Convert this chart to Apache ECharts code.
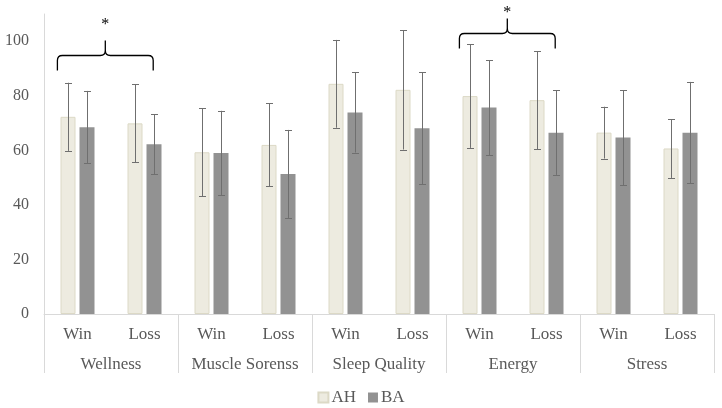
<!DOCTYPE html>
<html>
<head>
<meta charset="utf-8">
<script src="https://cdn.jsdelivr.net/npm/echarts@6/dist/echarts.min.js"></script>
<style>html,body{margin:0;padding:0;background:#fff;}#c{width:722px;height:408px;}</style>
</head>
<body>
<div id="c"></div>
<script>
const categories = ['Win','Loss','Win','Loss','Win','Loss','Win','Loss','Win','Loss'];
const groups = ['Wellness','Muscle Sorenss','Sleep Quality','Energy','Stress'];
const ahMean = [72.3, 69.9, 59.3, 62.0, 84.4, 82.2, 79.9, 78.4, 66.5, 60.7];
const ahSD   = [12.5, 14.3, 16.2, 15.2, 16.1, 21.9, 19.0, 18.0, 9.5, 10.8];
const baMean = [68.5, 62.2, 59.0, 51.3, 73.9, 68.1, 75.7, 66.5, 64.7, 66.5];
const baSD   = [13.3, 11.0, 15.5, 16.2, 14.7, 20.6, 17.4, 15.5, 17.4, 18.6];
const yTicks = [0, 20, 40, 60, 80, 100];
// significance braces: start category index, end category index, brace level, star level
const braceFrom = [0, 6];
const braceTo = [1, 7];
const braceLevel = [94.9, 102.9];
const braceStar = [107.1, 111.4];

const FONT = '"Liberation Serif", "Times New Roman", serif';
const TEXT = '#595959';
const BAR_W = 15, BAR_GAP = 4;

function errData(mean, sd) {
  return mean.map((m, i) => [i, m - sd[i], m + sd[i]]);
}
function errSeries(name, mean, sd, side) {
  return {
    type: 'custom', name: name + ' err', silent: true, z: 5,
    renderItem: function (params, api) {
      const off = side * (BAR_W + BAR_GAP) / 2;
      const lo = api.coord([api.value(0), api.value(1)]);
      const hi = api.coord([api.value(0), api.value(2)]);
      const x = Math.round(lo[0] + off) + 0.5;
      const st = { stroke: '#6f6f6f', lineWidth: 1 };
      return { type: 'group', children: [
        { type: 'line', shape: { x1: x, y1: lo[1], x2: x, y2: hi[1] }, style: st },
        { type: 'line', shape: { x1: x - 3.5, y1: Math.round(lo[1]) + 0.5, x2: x + 3.5, y2: Math.round(lo[1]) + 0.5 }, style: st },
        { type: 'line', shape: { x1: x - 3.5, y1: Math.round(hi[1]) + 0.5, x2: x + 3.5, y2: Math.round(hi[1]) + 0.5 }, style: st }
      ]};
    },
    data: errData(mean, sd)
  };
}

const chart = echarts.init(document.getElementById('c'), null, { renderer: 'canvas' });
chart.setOption({
  animation: false,
  textStyle: { fontFamily: FONT },
  grid: { left: 44, right: 8, top: 14, bottom: 94 },
  legend: {
    data: ['AH', 'BA'], top: 384, left: 'center',
    itemWidth: 10, itemHeight: 10, itemGap: 12,
    icon: 'rect',
    textStyle: { fontFamily: FONT, fontSize: 17, color: TEXT, padding: [0, 0, 0, -2] }
  },
  xAxis: [{
    type: 'category', data: categories, position: 'bottom',
    axisLine: { show: true, lineStyle: { color: '#d9d9d9', width: 1 } },
    axisTick: { show: false },
    axisLabel: { fontFamily: FONT, fontSize: 17, color: TEXT, margin: 12, interval: 0 }
  }, {
    type: 'category', data: groups, position: 'bottom',
    axisLine: { show: false },
    axisTick: { show: true, length: 59, lineStyle: { color: '#d9d9d9' } },
    axisLabel: { fontFamily: FONT, fontSize: 17, color: TEXT, margin: 42, interval: 0 }
  }],
  yAxis: {
    type: 'value', min: 0, max: 110, interval: 20,
    axisLine: { show: true, lineStyle: { color: '#d9d9d9' } },
    axisTick: { show: false },
    splitLine: { show: false },
    axisLabel: { fontFamily: FONT, fontSize: 16, color: TEXT, margin: 15, showMaxLabel: false,
      formatter: v => yTicks.indexOf(v) >= 0 ? String(v) : '' }
  },
  series: [{
    name: 'AH', type: 'bar', data: ahMean, barWidth: BAR_W, barGap: (BAR_GAP / BAR_W * 100) + '%',
    itemStyle: { color: '#edebe0', borderColor: '#dcd9c6', borderWidth: 1 }
  }, {
    name: 'BA', type: 'bar', data: baMean, barWidth: BAR_W,
    itemStyle: { color: '#929292' }
  },
  errSeries('AH', ahMean, ahSD, -1),
  errSeries('BA', baMean, baSD, 1),
  {
    type: 'custom', name: 'brace', silent: true, clip: false, z: 6,
    renderItem: function (params, api) {
      const band = api.size([1, 0])[0];
      const a = api.coord([api.value(0), api.value(2)]);
      const b = api.coord([api.value(1), api.value(2)]);
      const s = api.coord([api.value(0), api.value(3)]);
      const xl = a[0] - band * 0.3, xr = b[0] + band * 0.13, y = Math.round(a[1]) + 0.5;
      const xm = (xl + xr) / 2, r = 5, d = 15, p = 15;
      const path = `M${xl},${y + d} L${xl},${y + r} Q${xl},${y} ${xl + r},${y} L${xm - r},${y} Q${xm},${y} ${xm},${y - r} L${xm},${y - p} M${xm},${y - r} Q${xm},${y} ${xm + r},${y} L${xr - r},${y} Q${xr},${y} ${xr},${y + r} L${xr},${y + d}`;
      return { type: 'group', children: [
        { type: 'path', shape: { pathData: path }, style: { fill: null, stroke: '#000', lineWidth: 1.3 } },
        { type: 'text', style: { text: '*', x: xm, y: s[1] + 3, align: 'center', verticalAlign: 'middle', font: '16px ' + FONT, fill: '#000' } }
      ]};
    },
    data: braceFrom.map((f, i) => [f, braceTo[i], braceLevel[i], braceStar[i]])
  }]
});
</script>
</body>
</html>
